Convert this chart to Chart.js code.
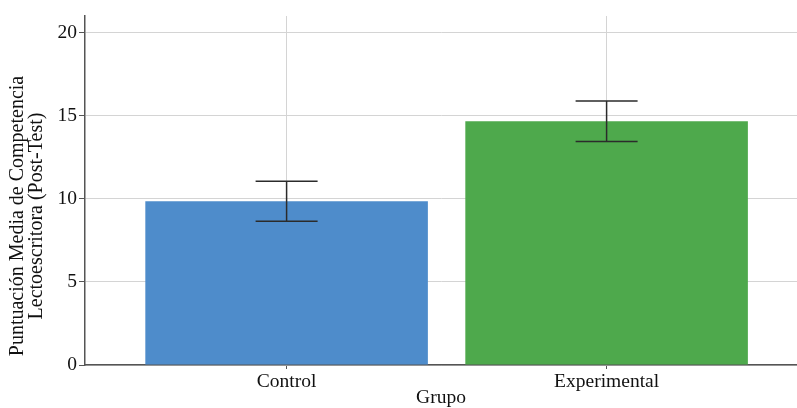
<!DOCTYPE html>
<html>
<head>
<meta charset="utf-8">
<script src="https://cdn.jsdelivr.net/npm/chart.js@4"></script>
<style>
  html, body { margin: 0; padding: 0; background: #fff; }
  #wrap { width: 797px; height: 408px; }
</style>
</head>
<body>
<div id="wrap"><canvas id="chart"></canvas></div>
<script>
const groups = ['Control', 'Experimental'];
const means = [9.85, 14.67];
const errLow = [8.65, 13.45];
const errHigh = [11.05, 15.88];
const yTicks = [0, 5, 10, 15, 20];
const yTitle = ['Puntuación Media de Competencia', 'Lectoescritora (Post-Test)'];

const serif = '"Liberation Serif", "Times New Roman", serif';

// error bars drawn from the scales
const errorBars = {
    id: 'errorBars',
    afterDatasetsDraw(chart) {
        const {ctx, scales: {x, y}} = chart;
        ctx.save();
        ctx.strokeStyle = '#2b2b2b';
        ctx.lineWidth = 1.5;
        groups.forEach((g, i) => {
            const px = x.getPixelForValue(i);
            const lo = y.getPixelForValue(errLow[i]);
            const hi = y.getPixelForValue(errHigh[i]);
            ctx.beginPath();
            ctx.moveTo(px, lo); ctx.lineTo(px, hi);
            ctx.moveTo(px - 31, lo); ctx.lineTo(px + 31, lo);
            ctx.moveTo(px - 31, hi); ctx.lineTo(px + 31, hi);
            ctx.stroke();
        });
        ctx.restore();
    }
};

// y title centred on the figure, like the reference
const yTitlePlugin = {
    id: 'yTitle',
    afterDraw(chart) {
        const ctx = chart.ctx;
        ctx.save();
        ctx.translate(27, 216);
        ctx.rotate(-Math.PI / 2);
        ctx.font = '20px ' + serif;
        ctx.fillStyle = '#111';
        ctx.textAlign = 'center';
        ctx.textBaseline = 'middle';
        ctx.fillText(yTitle[0], 0, -9);
        ctx.fillText(yTitle[1], 0, 10);
        ctx.restore();
    }
};

new Chart(document.getElementById('chart'), {
    type: 'bar',
    data: {
        datasets: [{
            data: means.map((m, i) => ({x: i, y: m})),
            backgroundColor: ['#4e8ccb', '#4ea94c'],
            borderWidth: 0,
            barPercentage: 0.883,
            categoryPercentage: 1
        }]
    },
    options: {
        responsive: true,
        maintainAspectRatio: false,
        animation: false,
        layout: {padding: {top: 16, right: 0, left: 0, bottom: 0}},
        plugins: {legend: {display: false}, tooltip: {enabled: false}},
        scales: {
            x: {
                type: 'linear',
                offset: false,
                min: -0.63,
                max: 1.595,
                afterBuildTicks: scale => { scale.ticks = groups.map((g, i) => ({value: i})); },
                afterFit: scale => { scale.height = 43; },
                ticks: {
                    callback: v => groups[v],
                    color: '#111',
                    font: {family: serif, size: 19.5},
                    padding: 1
                },
                grid: {offset: false, color: '#d4d4d4', tickLength: 4, tickColor: '#555'},
                border: {color: '#555', width: 1.5},
                title: {
                    display: true,
                    text: 'Grupo',
                    color: '#111',
                    font: {family: serif, size: 19.5, lineHeight: 1},
                    padding: 0
                }
            },
            y: {
                min: 0,
                max: 21,
                afterBuildTicks: scale => { scale.ticks = yTicks.map(v => ({value: v})); },
                afterFit: scale => { scale.width = 85; },
                ticks: {
                    color: '#111',
                    font: {family: serif, size: 19.5},
                    padding: 2
                },
                grid: {color: '#d4d4d4', tickLength: 6, tickColor: '#555'},
                border: {color: '#555', width: 1.5}
            }
        }
    },
    plugins: [errorBars, yTitlePlugin]
});
</script>
</body>
</html>
